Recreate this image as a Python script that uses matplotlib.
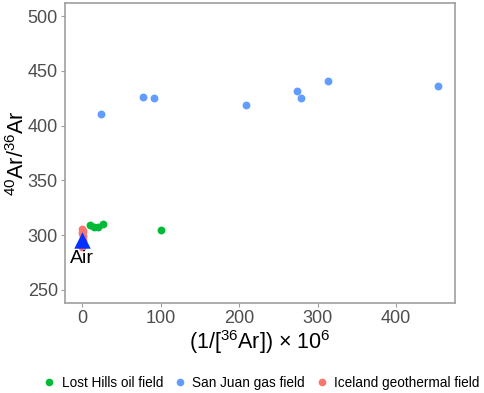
import matplotlib
matplotlib.use('Agg')
import matplotlib.pyplot as plt
from matplotlib.lines import Line2D

plt.rcParams['font.family'] = ['Liberation Sans', 'DejaVu Sans']
plt.rcParams['mathtext.fontset'] = 'custom'
plt.rcParams['mathtext.rm'] = 'Liberation Sans'

# Lost Hills oil field
lh_x = [10, 15, 20, 26, 100]
lh_y = [309, 307, 307.5, 310, 305]
# San Juan gas field
sj_x = [24, 78, 92, 209, 274, 279, 313, 453]
sj_y = [411, 426, 425, 419, 432, 425, 441, 436]
# Iceland geothermal field
ic_x = [0.3, 0.5, 0.4, 0.6, 0.5, 0.7, 0.4]
ic_y = [306, 304, 302, 299, 296, 293, 289]
# air
air_x = [0]
air_y = [295.5]

green = '#00BA38'
blue = '#619CFF'
red = '#F8766D'

fig = plt.figure(figsize=(4.84, 3.93), dpi=100)
ax = fig.add_axes([0.134, 0.229, 0.806, 0.763])

ax.scatter(lh_x, lh_y, s=32, color=green, zorder=3, linewidths=0)
ax.scatter(sj_x, sj_y, s=32, color=blue, zorder=3, linewidths=0)
ax.scatter(ic_x, ic_y, s=32, color=red, zorder=3, linewidths=0)
ax.scatter(air_x, air_y, s=140, marker='^', color='#0530FF', zorder=4, linewidths=0)
ax.text(air_x[0], air_y[0] - 9, 'Air', ha='center', va='top', fontsize=14)

ax.set_xlim(-22, 475)
ax.set_ylim(238, 512)
ax.set_xticks([0, 100, 200, 300, 400])
ax.set_yticks([250, 300, 350, 400, 450, 500])

for s in ax.spines.values():
    s.set_color('#a0a0a0')
    s.set_linewidth(1.2)
ax.tick_params(colors='#4d4d4d', labelsize=13, length=3, width=0.8, pad=2)
ax.tick_params(axis='both', color='#a0a0a0')

ax.set_xlabel(r'(1/[$^{36}$Ar]) $\times$ 10$^{6}$', fontsize=15.5, labelpad=1)
ax.set_ylabel(r'$^{40}$Ar/$^{36}$Ar', fontsize=15.5, labelpad=-1)

handles = [Line2D([], [], marker='o', ls='', color=c, markersize=5.5, markeredgewidth=0)
           for c in (green, blue, red)]
fig.legend(handles, ['Lost Hills oil field', 'San Juan gas field', 'Iceland geothermal field'],
           loc='center left', bbox_to_anchor=(0.088, 0.026), ncol=3, frameon=False, fontsize=9.8,
           handletextpad=0.4, columnspacing=0.75, handlelength=1.0, borderpad=0, borderaxespad=0)

fig.savefig('out.png', dpi=100)
